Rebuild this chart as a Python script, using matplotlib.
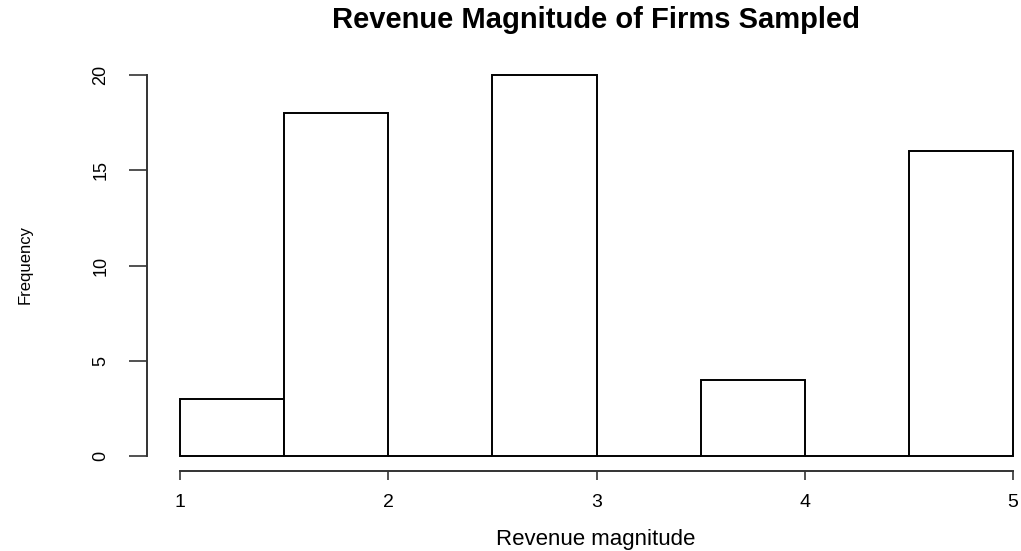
import matplotlib
matplotlib.use("Agg")
import matplotlib.pyplot as plt

# histogram of revenue magnitude, bins of width 0.5
bin_edges = [1.0, 1.5, 2.0, 2.5, 3.0, 3.5, 4.0, 4.5, 5.0]
counts = [3, 18, 0, 20, 0, 4, 0, 16]
x_ticks = [1, 2, 3, 4, 5]
y_ticks = [0, 5, 10, 15, 20]

plt.rcParams['font.family'] = ['Liberation Sans', 'DejaVu Sans']

W, H = 1021, 551
fig = plt.figure(figsize=(W / 100, H / 100), dpi=100)
# plot region in pixels: x 147..1046, y 59.8..471.2 (R style 4% padding)
ax = fig.add_axes([147 / W, (H - 471.2) / H, (1046 - 147) / W, (471.2 - 59.8) / H])
ax.set_xlim(0.84, 5.16)
ax.set_ylim(-0.8, 20.8)

widths = [b - a for a, b in zip(bin_edges[:-1], bin_edges[1:])]
ax.bar(bin_edges[:-1], counts, width=widths, align='edge',
       facecolor='white', edgecolor='black', linewidth=1.4)

for s in ['top', 'right']:
    ax.spines[s].set_visible(False)
ax.spines['left'].set_bounds(0, 20)
ax.spines['bottom'].set_bounds(1, 5)
for s in ['left', 'bottom']:
    ax.spines[s].set_linewidth(1.4)
    ax.spines[s].set_color('#333333')

ax.set_xticks(x_ticks)
ax.set_yticks(y_ticks)
ax.tick_params(axis='y', length=13, width=1.2, pad=14, labelsize=13,
               labelrotation=90, color='#333333')
ax.tick_params(axis='x', length=6.5, width=1.2, pad=10, labelsize=14,
               color='#333333')
for lab in ax.get_yticklabels():
    lab.set_va('center')

fig.text(596 / W, 1 - 20 / H, 'Revenue Magnitude of Firms Sampled',
         ha='center', va='center', fontsize=21, fontweight='bold')
fig.text(596 / W, 1 - 540 / H, 'Revenue magnitude',
         ha='center', va='center', fontsize=16)
fig.text(25 / W, 1 - 265 / H, 'Frequency', rotation=90,
         ha='center', va='center', fontsize=12)

fig.savefig('out.png', dpi=100)
